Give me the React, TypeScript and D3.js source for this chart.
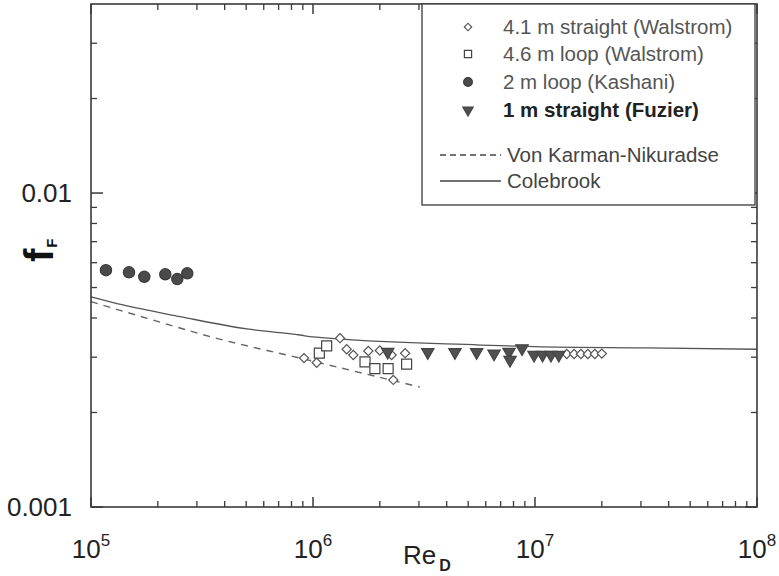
import React from "react";
import * as d3 from "d3";

// Friction factor data: [Reynolds number, Fanning friction factor]
const walstromStraight: [number, number][] = [
  [9.11e5, 0.00298],
  [1.039e6, 0.00288],
  [1.323e6, 0.00345],
  [1.418e6, 0.00318],
  [1.519e6, 0.00305],
  [1.775e6, 0.00314],
  [2.0e6, 0.00315],
  [2.26e6, 0.00305],
  [2.6e6, 0.00309],
  [2.3e6, 0.00254],
  [1.39e7, 0.00307],
  [1.5e7, 0.00307],
  [1.61e7, 0.00307],
  [1.73e7, 0.00307],
  [1.86e7, 0.00307],
  [2.0e7, 0.00308],
];

const walstromLoop: [number, number][] = [
  [1.068e6, 0.00309],
  [1.152e6, 0.00326],
  [1.715e6, 0.0029],
  [1.9e6, 0.00276],
  [2.18e6, 0.00276],
  [2.64e6, 0.00285],
];

const kashaniLoop: [number, number][] = [
  [1.168e5, 0.00568],
  [1.483e5, 0.00559],
  [1.738e5, 0.00541],
  [2.161e5, 0.00551],
  [2.447e5, 0.00532],
  [2.714e5, 0.00555],
];

const fuzierStraight: [number, number][] = [
  [2.17e6, 0.00312],
  [3.29e6, 0.00311],
  [4.36e6, 0.00311],
  [5.46e6, 0.00311],
  [6.54e6, 0.00308],
  [7.64e6, 0.00312],
  [7.72e6, 0.00294],
  [8.74e6, 0.0032],
  [9.9e6, 0.00305],
  [1.081e7, 0.00305],
  [1.18e7, 0.00305],
  [1.28e7, 0.00305],
];

const vonKarmanNikuradse: [number, number][] = [
  [1e5, 0.00451],
  [1.79e5, 0.00399],
  [3.54e5, 0.00347],
  [8.74e5, 0.00298],
  [3.03e6, 0.00241],
];

const colebrook: [number, number][] = [
  [1e5, 0.00467],
  [1.393e5, 0.0044],
  [2.52e5, 0.00404],
  [5.04e5, 0.00369],
  [8.74e5, 0.00353],
  [1e6, 0.00348],
  [5.65e6, 0.00328],
  [1e7, 0.00324],
  [3.16e7, 0.00321],
  [1e8, 0.00318],
];

const xMajor = [1e5, 1e6, 1e7, 1e8];
const xExponents = ["5", "6", "7", "8"];
const yMajor = [0.001, 0.01];
const yLabels = ["0.001", "0.01"];

const legendMarkers = [
  { label: "4.1 m straight (Walstrom)", kind: "diamond" },
  { label: "4.6 m loop (Walstrom)", kind: "square" },
  { label: "2 m loop (Kashani)", kind: "circle" },
  { label: "1 m straight (Fuzier)", kind: "triangle" },
];
const legendLines = [
  { label: "Von Karman-Nikuradse", dashed: true },
  { label: "Colebrook", dashed: false },
];

const W = 779;
const H = 576;
const left = 91;
const right = 757;
const top = 4;
const bottom = 507;
const FONT = "Liberation Sans, Arial, Helvetica, sans-serif";
const AXIS = "#3a3a3a";

export default function App() {
  const x = d3.scaleLog().domain([1e5, 1e8]).range([left, right]);
  const y = d3.scaleLog().domain([0.001, 0.04]).range([bottom, top]);

  const line = d3
    .line<[number, number]>()
    .x((d) => x(d[0]))
    .y((d) => y(d[1]))
    .curve(d3.curveMonotoneX);

  const diamond = d3.symbol().type(d3.symbolSquare).size(42)();
  const square = d3.symbol().type(d3.symbolSquare).size(100)();
  const circle = d3.symbol().type(d3.symbolCircle).size(100)();
  const triangle = d3.symbol().type(d3.symbolTriangle).size(66)();

  const legDiamond = d3.symbol().type(d3.symbolSquare).size(28)();
  const legSquare = d3.symbol().type(d3.symbolSquare).size(52)();
  const legCircle = d3.symbol().type(d3.symbolCircle).size(60)();
  const legTriangle = d3.symbol().type(d3.symbolTriangle).size(46)();

  // minor ticks
  const xMinor: number[] = [];
  for (let e = 5; e < 8; e++) for (let m = 2; m <= 9; m++) xMinor.push(m * Math.pow(10, e));
  const yMinor: number[] = [];
  for (let e = -3; e < -1; e++)
    for (let m = 2; m <= 9; m++) {
      const v = m * Math.pow(10, e);
      if (v < 0.04) yMinor.push(v);
    }

  const markerFor = (kind: string, legend: boolean) => {
    if (kind === "diamond")
      return { d: legend ? legDiamond : diamond, rot: 45, fill: "#fff", stroke: "#555" };
    if (kind === "square")
      return { d: legend ? legSquare : square, rot: 0, fill: "#fff", stroke: "#444" };
    if (kind === "circle")
      return { d: legend ? legCircle : circle, rot: 0, fill: "#4a4a4a", stroke: "#3a3a3a" };
    return { d: legend ? legTriangle : triangle, rot: 180, fill: "#505050", stroke: "#444" };
  };

  const drawSeries = (data: [number, number][], kind: string) => {
    const m = markerFor(kind, false);
    return data.map((d, i) => (
      <path
        key={kind + i}
        d={m.d || ""}
        transform={`translate(${x(d[0])},${y(d[1])}) rotate(${m.rot})`}
        fill={m.fill}
        stroke={m.stroke}
        strokeWidth={1.2}
      />
    ));
  };

  const legX = 422;
  const legRows = [27, 54, 82, 110];
  const legLineRows = [155, 181];

  return (
    <svg
      width={W}
      height={H}
      style={{ position: "absolute", left: 0, top: 0, background: "#fff" }}
      fontFamily={FONT}
    >
      <rect x={0} y={0} width={W} height={H} fill="#fff" />

      {/* reference curves */}
      <path
        d={line(colebrook) || ""}
        fill="none"
        stroke="#555"
        strokeWidth={1.3}
      />
      <path
        d={line(vonKarmanNikuradse) || ""}
        fill="none"
        stroke="#666"
        strokeWidth={1.4}
        strokeDasharray="7,6"
      />

      {/* measurements */}
      {drawSeries(walstromStraight, "diamond")}
      {drawSeries(walstromLoop, "square")}
      {drawSeries(fuzierStraight, "triangle")}
      {drawSeries(kashaniLoop, "circle")}

      {/* frame */}
      <rect
        x={left}
        y={top}
        width={right - left}
        height={bottom - top}
        fill="none"
        stroke={AXIS}
        strokeWidth={1.6}
      />

      {/* x ticks (bottom and top, inward) */}
      {xMajor.map((v) => (
        <g key={"xM" + v}>
          <line x1={x(v)} x2={x(v)} y1={bottom} y2={bottom - 10} stroke={AXIS} strokeWidth={1.5} />
          <line x1={x(v)} x2={x(v)} y1={top} y2={top + 10} stroke={AXIS} strokeWidth={1.5} />
        </g>
      ))}
      {xMinor.map((v) => (
        <g key={"xm" + v}>
          <line x1={x(v)} x2={x(v)} y1={bottom} y2={bottom - 6} stroke={AXIS} strokeWidth={1.3} />
          <line x1={x(v)} x2={x(v)} y1={top} y2={top + 6} stroke={AXIS} strokeWidth={1.3} />
        </g>
      ))}

      {/* y ticks (left and right, inward) */}
      {yMajor.map((v) => (
        <g key={"yM" + v}>
          <line x1={left} x2={left + 12} y1={y(v)} y2={y(v)} stroke={AXIS} strokeWidth={1.5} />
          <line x1={right} x2={right - 12} y1={y(v)} y2={y(v)} stroke={AXIS} strokeWidth={1.5} />
        </g>
      ))}
      {yMinor.map((v) => (
        <g key={"ym" + v}>
          <line x1={left} x2={left + 6} y1={y(v)} y2={y(v)} stroke={AXIS} strokeWidth={1.3} />
          <line x1={right} x2={right - 6} y1={y(v)} y2={y(v)} stroke={AXIS} strokeWidth={1.3} />
        </g>
      ))}

      {/* tick labels */}
      {yMajor.map((v, i) => (
        <text key={"yl" + v} x={72} y={y(v) + 9} fontSize={26} textAnchor="end" fill="#222">
          {yLabels[i]}
        </text>
      ))}
      {xMajor.map((v, i) => (
        <text key={"xl" + v} x={x(v)} y={558} fontSize={26} textAnchor="middle" fill="#222">
          10
          <tspan fontSize={17} dy={-12}>
            {xExponents[i]}
          </tspan>
        </text>
      ))}

      {/* axis titles */}
      <text x={403} y={564} fontSize={26} fill="#222">
        Re
        <tspan fontSize={16} fontWeight="bold" dx={3} dy={7}>
          D
        </tspan>
      </text>
      <text transform="translate(53,262) rotate(-90)" fontSize={40} fontWeight="bold" fill="#111">
        f
        <tspan fontSize={15} dy={4} dx={1}>
          F
        </tspan>
      </text>

      {/* legend */}
      <rect x={legX} y={top} width={333} height={201} fill="#fff" stroke={AXIS} strokeWidth={1.3} />
      {legendMarkers.map((item, i) => {
        const m = markerFor(item.kind, true);
        const bold = item.kind === "triangle";
        return (
          <g key={item.label}>
            <path
              d={m.d || ""}
              transform={`translate(468,${legRows[i]}) rotate(${m.rot})`}
              fill={m.fill}
              stroke={m.stroke}
              strokeWidth={1.2}
            />
            <text
              x={503}
              y={legRows[i] + 7}
              fontSize={20.5}
              fontWeight={bold ? "bold" : "normal"}
              fill={bold ? "#222" : "#555"}
            >
              {item.label}
            </text>
          </g>
        );
      })}
      {legendLines.map((item, i) => (
        <g key={item.label}>
          <line
            x1={440}
            x2={501}
            y1={legLineRows[i]}
            y2={legLineRows[i]}
            stroke="#444"
            strokeWidth={1.5}
            strokeDasharray={item.dashed ? "6,4" : undefined}
          />
          <text x={507} y={legLineRows[i] + 7} fontSize={20.5} fill="#444">
            {item.label}
          </text>
        </g>
      ))}
    </svg>
  );
}
